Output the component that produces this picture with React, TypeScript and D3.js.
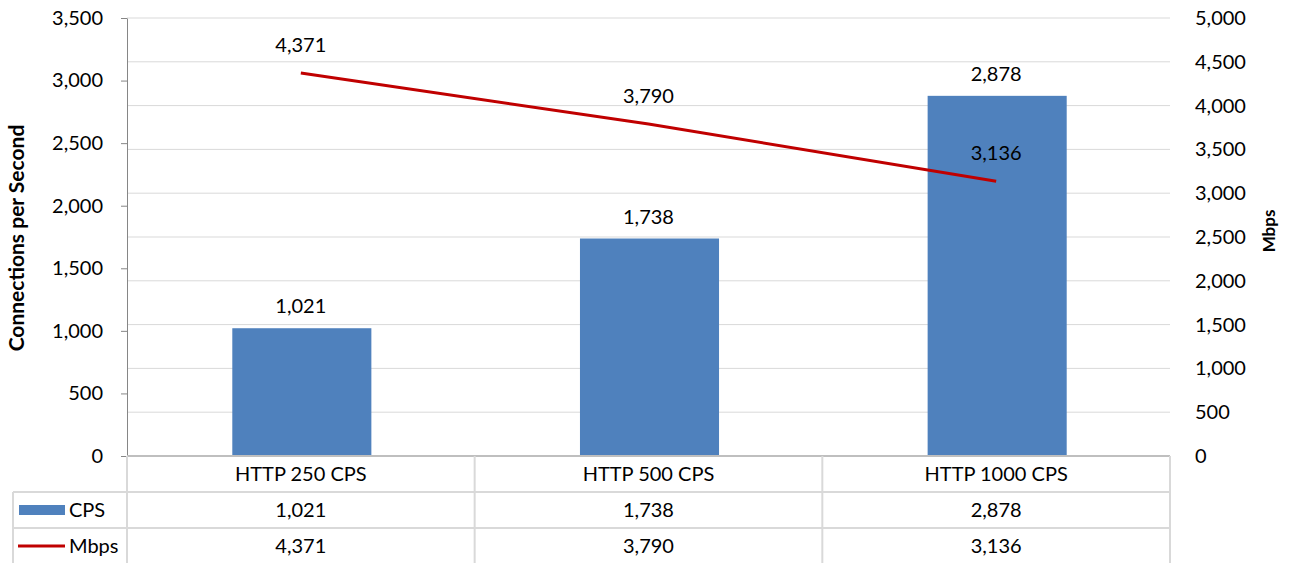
import React, { useEffect, useRef } from 'react';
import { select, scaleBand, scaleLinear, axisLeft, axisRight, line, format } from 'd3';

const categories = ["HTTP 250 CPS", "HTTP 500 CPS", "HTTP 1000 CPS"];
const cps = [1021, 1738, 2878];
const mbps = [4371, 3790, 3136];
const leftTicks = [0, 500, 1000, 1500, 2000, 2500, 3000, 3500];
const rightTicks = [0, 500, 1000, 1500, 2000, 2500, 3000, 3500, 4000, 4500, 5000];

const FONT = "Lato, 'Open Sans', sans-serif";
const FS = 20;
const BAR = "#4F81BD";
const LINE = "#C00000";
const GRID = "#D9D9D9";

const App = () => {
    const ref = useRef<SVGSVGElement>(null);

    useEffect(() => {
        const svg = select(ref.current);
        svg.selectAll("*").remove();

        const left = 127, right = 1170, top = 18, bottom = 456;
        const rowH = 36;
        const tableLeft = 13;
        const fmt = format(",");

        const x = scaleBand().domain(categories).range([left, right]);
        const yL = scaleLinear().domain([0, 3500]).range([bottom, top]);
        const yR = scaleLinear().domain([0, 5000]).range([bottom, top]);

        // gridlines follow the Mbps axis
        svg.append("g")
            .selectAll("line")
            .data(rightTicks.slice(1))
            .enter().append("line")
            .attr("x1", left).attr("x2", right)
            .attr("y1", (d) => yR(d)).attr("y2", (d) => yR(d))
            .attr("stroke", GRID).attr("stroke-width", 1);

        // bars
        svg.append("g")
            .selectAll("rect")
            .data(cps)
            .enter().append("rect")
            .attr("x", (d, i) => x(categories[i])! + x.bandwidth() * 0.3 + 1)
            .attr("width", x.bandwidth() * 0.4)
            .attr("y", (d) => yL(d))
            .attr("height", (d) => bottom - yL(d))
            .attr("fill", BAR);

        // left axis
        const gl = svg.append("g")
            .attr("transform", `translate(${left},0)`)
            .call(axisLeft(yL).tickValues(leftTicks).tickFormat((d) => fmt(d as number)).tickSize(6).tickSizeOuter(0).tickPadding(18));
        gl.select(".domain").attr("stroke", "#868686");
        gl.selectAll(".tick line").attr("stroke", "#868686");
        gl.selectAll("text").attr("font-family", FONT).attr("font-size", FS).attr("fill", "#000");

        // right axis (labels only)
        const gr = svg.append("g")
            .attr("transform", `translate(${right},0)`)
            .call(axisRight(yR).tickValues(rightTicks).tickFormat((d) => fmt(d as number)).tickSize(0).tickPadding(25));
        gr.select(".domain").remove();
        gr.selectAll("text").attr("font-family", FONT).attr("font-size", FS).attr("fill", "#000");

        // line
        const pts = mbps.map((v, i) => [x(categories[i])! + x.bandwidth() / 2, yR(v)] as [number, number]);
        svg.append("path")
            .attr("d", line()(pts))
            .attr("fill", "none")
            .attr("stroke", LINE)
            .attr("stroke-width", 3);

        // data labels
        svg.append("g")
            .selectAll("text")
            .data(cps)
            .enter().append("text")
            .attr("x", (d, i) => x(categories[i])! + x.bandwidth() / 2)
            .attr("y", (d) => yL(d) - 15)
            .attr("text-anchor", "middle")
            .attr("font-family", FONT).attr("font-size", FS)
            .text((d) => fmt(d));
        svg.append("g")
            .selectAll("text")
            .data(mbps)
            .enter().append("text")
            .attr("x", (d, i) => x(categories[i])! + x.bandwidth() / 2)
            .attr("y", (d) => yR(d) - 21)
            .attr("text-anchor", "middle")
            .attr("font-family", FONT).attr("font-size", FS)
            .text((d) => fmt(d));

        // axis titles
        svg.append("text")
            .attr("transform", `translate(24,238) rotate(-90)`)
            .attr("text-anchor", "middle")
            .attr("font-family", FONT).attr("font-size", 21).attr("font-weight", "bold")
            .text("Connections per Second");
        svg.append("text")
            .attr("transform", `translate(1275,231) rotate(-90)`)
            .attr("text-anchor", "middle")
            .attr("font-family", FONT).attr("font-size", 17).attr("font-weight", "bold")
            .text("Mbps");

        // data table
        const t = svg.append("g");
        const hl = [
            { y: bottom, x1: left },
            { y: bottom + rowH, x1: tableLeft },
            { y: bottom + rowH * 2, x1: tableLeft },
        ];
        t.selectAll("line.h")
            .data(hl)
            .enter().append("line")
            .attr("x1", (d) => d.x1).attr("x2", right)
            .attr("y1", (d) => d.y).attr("y2", (d) => d.y)
            .attr("stroke", (d, i) => i === 0 ? "#BFBFBF" : GRID).attr("stroke-width", 2);
        const vx = [left, ...categories.map((c) => x(c)! + x.bandwidth())];
        t.selectAll("line.v")
            .data(vx)
            .enter().append("line")
            .attr("x1", (d) => d).attr("x2", (d) => d)
            .attr("y1", bottom).attr("y2", 563)
            .attr("stroke", GRID).attr("stroke-width", 2);
        t.append("line")
            .attr("x1", tableLeft).attr("x2", tableLeft)
            .attr("y1", bottom + rowH).attr("y2", 563)
            .attr("stroke", GRID).attr("stroke-width", 2);

        t.selectAll("text.cat")
            .data(categories)
            .enter().append("text")
            .attr("x", (d) => x(d)! + x.bandwidth() / 2)
            .attr("y", bottom + rowH / 2 + 7)
            .attr("text-anchor", "middle")
            .attr("font-family", FONT).attr("font-size", FS)
            .text((d) => d);

        const rows = [
            { name: "CPS", values: cps },
            { name: "Mbps", values: mbps },
        ];
        rows.forEach((r, ri) => {
            const cy = bottom + rowH * (ri + 1) + rowH / 2;
            t.selectAll(`text.row${ri}`)
                .data(r.values)
                .enter().append("text")
                .attr("x", (d, i) => x(categories[i])! + x.bandwidth() / 2)
                .attr("y", cy + 7)
                .attr("text-anchor", "middle")
                .attr("font-family", FONT).attr("font-size", FS)
                .text((d) => fmt(d));
            if (ri === 0) {
                t.append("rect")
                    .attr("x", 19).attr("y", cy - 5).attr("width", 46).attr("height", 10)
                    .attr("fill", BAR);
            } else {
                t.append("line")
                    .attr("x1", 18).attr("x2", 65).attr("y1", cy).attr("y2", cy)
                    .attr("stroke", LINE).attr("stroke-width", 3);
            }
            t.append("text")
                .attr("x", 69).attr("y", cy + 7)
                .attr("font-family", FONT).attr("font-size", FS)
                .text(r.name);
        });
    }, []);

    return (
        <svg ref={ref} width="1293" height="563" style={{ position: 'absolute', left: 0, top: 0, background: '#fff' }}>
        </svg>
    );
}

export default App;
